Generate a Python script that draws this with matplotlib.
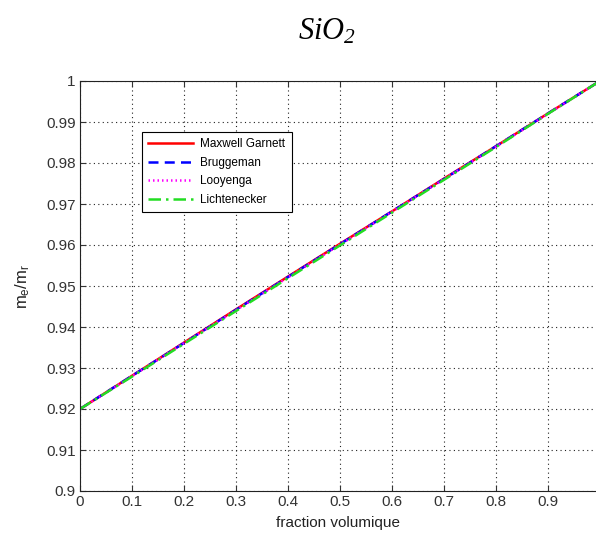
import numpy as np
import matplotlib
matplotlib.use("Agg")
import matplotlib.pyplot as plt

plt.rcParams['font.family'] = ['Liberation Sans', 'DejaVu Sans']
plt.rcParams['mathtext.fontset'] = 'custom'
plt.rcParams['mathtext.it'] = 'Liberation Serif:italic'
plt.rcParams['mathtext.rm'] = 'Liberation Serif:italic'
plt.rcParams['mathtext.sf'] = 'Liberation Sans'

# Data
fraction = [0.0, 0.1, 0.2, 0.3, 0.4, 0.5, 0.6, 0.7, 0.8, 0.9, 1.0]
maxwell_garnett = [0.92, 0.9281, 0.9362, 0.9443, 0.9523, 0.9603, 0.9682, 0.9762, 0.9841, 0.9921, 1.0]
bruggeman = [0.92, 0.9281, 0.9361, 0.9442, 0.9522, 0.9602, 0.9682, 0.9761, 0.9841, 0.9921, 1.0]
looyenga = [0.92, 0.9280, 0.9361, 0.9441, 0.9521, 0.9601, 0.9681, 0.9761, 0.9840, 0.9920, 1.0]
lichtenecker = [0.92, 0.9279, 0.9359, 0.9439, 0.9519, 0.9599, 0.9679, 0.9759, 0.9839, 0.9920, 1.0]
labels = ['Maxwell Garnett', 'Bruggeman', 'Looyenga', 'Lichtenecker']
xticks = [0, 0.1, 0.2, 0.3, 0.4, 0.5, 0.6, 0.7, 0.8, 0.9]
xticklabels = ['0', '0.1', '0.2', '0.3', '0.4', '0.5', '0.6', '0.7', '0.8', '0.9']
yticks = [0.9, 0.91, 0.92, 0.93, 0.94, 0.95, 0.96, 0.97, 0.98, 0.99, 1.0]
yticklabels = ['0.9', '0.91', '0.92', '0.93', '0.94', '0.95', '0.96', '0.97', '0.98', '0.99', '1']

fig = plt.figure(figsize=(5.96, 5.34), dpi=100)
ax = fig.add_axes([80/596, 43/534, 1 - 80/596, 410/534])

lw = 1.8
ax.plot(fraction, maxwell_garnett, color='#ff0000', lw=lw, ls='-', label=labels[0])
ax.plot(fraction, bruggeman, color='#0000ff', lw=lw, ls=(0, (4, 2.5)), label=labels[1])
ax.plot(fraction, looyenga, color='#ff00ff', lw=lw, ls=(0, (0.6, 1.2)), label=labels[2])
ax.plot(fraction, lichtenecker, color='#22dd22', lw=lw, ls=(0, (5, 2, 1, 2)), label=labels[3])

ax.set_xlim(0, 516/520)
ax.set_ylim(0.9, 1.0)
ax.set_xticks(xticks)
ax.set_xticklabels(xticklabels)
ax.set_yticks(yticks)
ax.set_yticklabels(yticklabels)
ax.tick_params(direction='in', top=True, right=False, length=4, width=0.8,
               labelsize=11, colors='#333333', pad=3)
for s in ['left', 'bottom', 'top']:
    ax.spines[s].set_color('#222222')
    ax.spines[s].set_linewidth(0.8)
ax.spines['right'].set_visible(False)
ax.grid(True, color='#222222', ls=(0, (1, 3)), lw=0.8)
ax.set_axisbelow(True)

ax.set_xlabel('fraction volumique', fontsize=11, labelpad=5, color='#222222')
ax.set_ylabel(r'm$_\mathsf{e}$/m$_\mathsf{r}$', fontsize=12, labelpad=10, color='#222222')

leg = ax.legend(loc='upper left', bbox_to_anchor=((142-80)/516, (491-132)/410),
                borderaxespad=0, fancybox=False, edgecolor='black', framealpha=1,
                fontsize=8.5, handlelength=3.8, handletextpad=0.6, labelspacing=0.55,
                borderpad=0.55)
leg.get_frame().set_linewidth(0.8)

fig.text(327/596, 1 - 40/534, r'$SiO_2$', fontsize=22, ha='center', va='baseline')

fig.savefig('out.png', dpi=100)
